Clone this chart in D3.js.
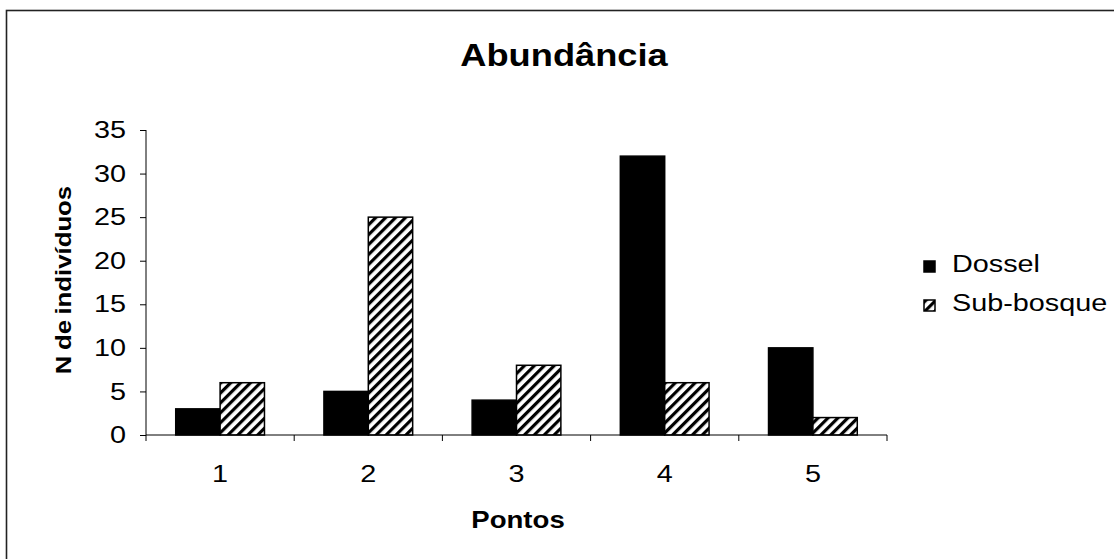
<!DOCTYPE html>
<html>
<head>
<meta charset="utf-8">
<script src="https://cdn.jsdelivr.net/npm/d3@7/dist/d3.min.js"></script>
<style>
  html, body { margin: 0; padding: 0; background: #fff; }
  svg { display: block; font-family: "Liberation Sans", Arial, sans-serif; }
</style>
</head>
<body>
<svg id="chart" width="1114" height="559"></svg>
<script>
const categories = ["1", "2", "3", "4", "5"];
const seriesNames = ["Dossel", "Sub-bosque"];
const dossel = [3, 5, 4, 32, 10];
const subBosque = [6, 25, 8, 6, 2];
const yTicks = [0, 5, 10, 15, 20, 25, 30, 35];

const SX = 1.2; // horizontal stretch of text as in the reference

const svg = d3.select("#chart");

// frame
svg.append("rect").attr("x", 6.5).attr("y", 10.5).attr("width", 1300).attr("height", 700)
  .attr("fill", "none").attr("stroke", "#222").attr("stroke-width", 1.6);

// pattern
const defs = svg.append("defs");
const pat = defs.append("pattern").attr("id", "hatch").attr("patternUnits", "userSpaceOnUse")
  .attr("width", 7).attr("height", 7).attr("patternTransform", "rotate(45)");
pat.append("rect").attr("width", 7).attr("height", 7).attr("fill", "#fff");
pat.append("rect").attr("x", 0).attr("y", 0).attr("width", 3.2).attr("height", 7).attr("fill", "#000");

const x0 = d3.scaleBand().domain(categories).range([146, 887]).paddingInner(0).paddingOuter(0);
const x1 = d3.scaleBand().domain(seriesNames).range([0, x0.bandwidth()]).paddingInner(0).paddingOuter(0.67);
const y = d3.scaleLinear().domain([0, 35]).range([435, 130]);

const data = categories.map((c, i) => ({cat: c, vals: [
  {s: "Dossel", v: dossel[i]}, {s: "Sub-bosque", v: subBosque[i]}]}));

const g = svg.append("g");
const groups = g.selectAll("g.cat").data(data).join("g")
  .attr("transform", d => `translate(${x0(d.cat)},0)`);
groups.selectAll("rect").data(d => d.vals).join("rect")
  .attr("x", d => x1(d.s))
  .attr("y", d => y(d.v))
  .attr("width", x1.bandwidth())
  .attr("height", d => y(0) - y(d.v))
  .attr("fill", d => d.s === "Dossel" ? "#000" : "url(#hatch)")
  .attr("stroke", "#000").attr("stroke-width", 1.5);

// y axis
const yAxis = d3.axisLeft(y).tickValues(yTicks).tickSize(6).tickFormat(d3.format("d"));
const ya = svg.append("g").attr("transform", "translate(146,0)").call(yAxis);
ya.select(".domain").attr("stroke", "#000").attr("d", "M0,130V435");
ya.selectAll(".tick line").attr("stroke", "#000");
ya.selectAll(".tick text").attr("font-size", 24).attr("fill", "#000")
  .attr("font-family", "Liberation Sans, Arial, sans-serif")
  .attr("x", -20 / SX).attr("transform", `scale(${SX},1)`);

// x axis
const xa = svg.append("g").attr("transform", "translate(0,435)");
xa.append("line").attr("x1", 146).attr("x2", 887).attr("stroke", "#000").attr("stroke-width", 1);
const bounds = categories.map(c => x0(c)).concat([x0.range()[1]]);
xa.selectAll("line.tk").data(bounds).join("line").attr("class", "tk")
  .attr("x1", d => d).attr("x2", d => d).attr("y1", 0).attr("y2", 6).attr("stroke", "#000");
xa.selectAll("text").data(categories).join("text")
  .attr("transform", d => `translate(${x0(d) + x0.bandwidth() / 2},47) scale(${SX},1)`)
  .attr("text-anchor", "middle").attr("font-size", 24).text(d => d);

// titles
svg.append("text").attr("transform", `translate(564,66) scale(1.17,1)`).attr("text-anchor", "middle")
  .attr("font-size", 31).attr("font-weight", "bold").text("Abundância");
svg.append("text").attr("transform", `translate(518,528) scale(${SX},1)`).attr("text-anchor", "middle")
  .attr("font-size", 23).attr("font-weight", "bold").text("Pontos");
svg.append("text").attr("transform", "translate(71,280) rotate(-90) scale(1.12,1)").attr("text-anchor", "middle")
  .attr("font-size", 23).attr("font-weight", "bold").attr("word-spacing", -1.5).text("N de indivíduos");

// legend
const leg = svg.append("g").attr("transform", "translate(924,261)");
const li = leg.selectAll("g").data(seriesNames).join("g")
  .attr("transform", (d, i) => `translate(0,${i * 39})`);
li.append("rect").attr("width", 11).attr("height", 11)
  .attr("fill", d => d === "Dossel" ? "#000" : "url(#hatch)")
  .attr("stroke", "#000").attr("stroke-width", 1.5);
li.append("text").attr("transform", `translate(28,11) scale(${SX},1)`).attr("font-size", 24).text(d => d);
</script>
</body>
</html>
